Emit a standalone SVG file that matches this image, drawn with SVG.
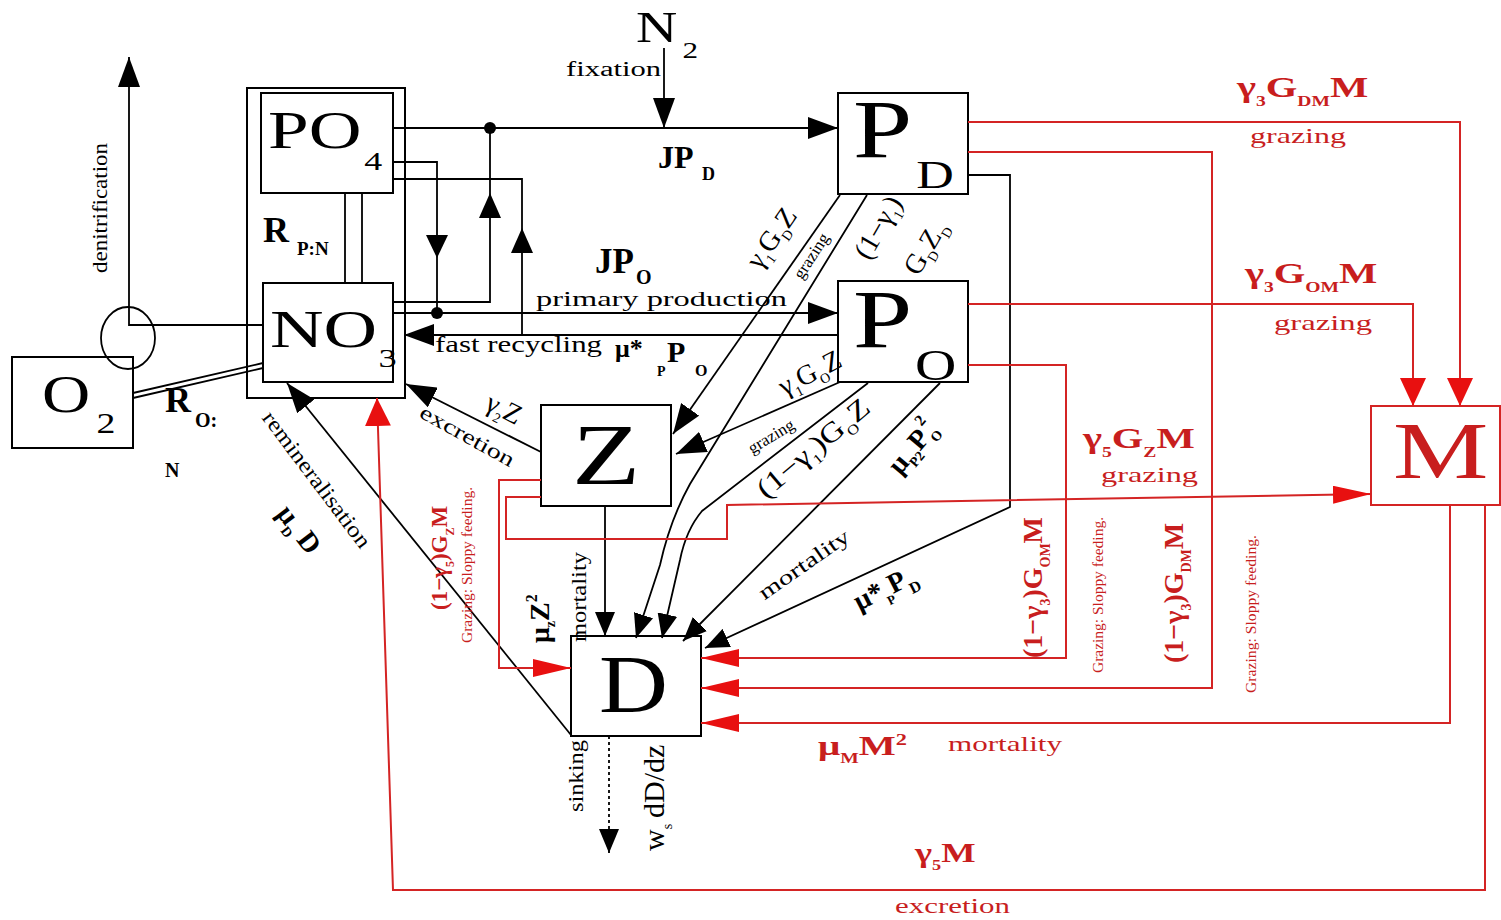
<svg xmlns="http://www.w3.org/2000/svg" width="1501" height="920" viewBox="0 0 1501 920">
<style>
.t{font-family:"Liberation Serif","DejaVu Serif",serif;fill:#000}
.b{font-weight:bold}
.r{fill:#c81e1e}
.box{fill:none;stroke:#000;stroke-width:2}
.rbox{fill:none;stroke:#d42424;stroke-width:2}
.k{fill:none;stroke:#000;stroke-width:1.8}
.rl{fill:none;stroke:#d42424;stroke-width:2}
</style>
<defs>
<marker id="ab" viewBox="0 0 30 22" refX="30" refY="11" markerWidth="30" markerHeight="22" markerUnits="userSpaceOnUse" orient="auto"><path d="M0,0L30,11L0,22z" fill="#000"/></marker>
<marker id="abs" viewBox="0 0 24 20" refX="24" refY="10" markerWidth="24" markerHeight="20" markerUnits="userSpaceOnUse" orient="auto"><path d="M0,0L24,10L0,20z" fill="#000"/></marker>
<marker id="rh" viewBox="0 0 38 18" refX="38" refY="9" markerWidth="38" markerHeight="18" markerUnits="userSpaceOnUse" orient="auto"><path d="M0,0L38,9L0,18z" fill="#e81010"/></marker>
<marker id="rv" viewBox="0 0 28 26" refX="28" refY="13" markerWidth="28" markerHeight="26" markerUnits="userSpaceOnUse" orient="auto"><path d="M0,0L28,13L0,26z" fill="#e81010"/></marker>
</defs>
<rect width="1501" height="920" fill="#fff"/>

<g id="nutrients-box"><rect class="box" x="247" y="88" width="158" height="310"/></g>
<g id="node-PO4"><rect class="box" x="261" y="93" width="132" height="100"/><text class="t" transform="translate(268,148) scale(1.38,1)" font-size="53">PO<tspan font-size="26" dx="2" dy="22">4</tspan></text></g>
<g id="node-NO3"><rect class="box" x="263" y="283" width="130" height="99"/><text class="t" transform="translate(270,347) scale(1.4,1)" font-size="53">NO<tspan font-size="26" dx="1" dy="20">3</tspan></text></g>
<g id="node-O2"><rect class="box" x="12" y="357" width="121" height="91"/><text class="t" transform="translate(42,412) scale(1.26,1)" font-size="53">O<tspan font-size="30" dx="5" dy="21">2</tspan></text></g>
<g id="node-N2"><text class="t" transform="translate(636,42) scale(1.3,1)" font-size="44">N<tspan font-size="24" dx="4" dy="16">2</tspan></text></g>
<g id="node-PD"><rect class="box" x="838" y="93" width="130" height="101"/><text class="t" transform="translate(853,157) scale(1.3,1)" font-size="82">P<tspan font-size="40" dx="3" dy="31">D</tspan></text></g>
<g id="node-PO"><rect class="box" x="838" y="281" width="130" height="101"/><text class="t" transform="translate(853,347) scale(1.3,1)" font-size="82">P<tspan font-size="44" dx="2" dy="33">O</tspan></text></g>
<g id="node-Z"><rect class="box" x="541" y="405" width="130" height="101"/><text class="t" transform="translate(572,484) scale(1.3,1)" font-size="86">Z</text></g>
<g id="node-D"><rect class="box" x="571" y="636" width="130" height="100"/><text class="t" transform="translate(599,712) scale(1.15,1)" font-size="83">D</text></g>
<g id="node-M"><rect class="rbox" x="1371" y="406" width="129" height="99"/><text class="t r" transform="translate(1393,478) scale(1.34,1)" font-size="80">M</text></g>

<g id="connectors">
<path class="k" d="M393,128H838" marker-end="url(#ab)"/>
<circle cx="490" cy="128" r="6"/>
<path class="k" d="M393,162H437V313"/>
<polygon points="426,235 448,235 437,258"/>
<path class="k" d="M393,179H522V335"/>
<polygon points="511,253 533,253 522,228"/>
<path class="k" d="M490,128V302H393"/>
<polygon points="479,218 501,218 490,193"/>
<path class="k" d="M393,313H838" marker-end="url(#ab)"/>
<circle cx="437" cy="313" r="6"/>
<path class="k" d="M838,335H404" marker-end="url(#ab)"/>
<path class="k" d="M664,48V128" marker-end="url(#ab)"/>
<path class="k" d="M345,193V283M362,193V283"/>
<path class="k" d="M133,393L263,363M133,398L263,368"/>
<ellipse class="k" cx="128" cy="338" rx="27" ry="31"/>
<path class="k" d="M263,325H129V57" marker-end="url(#ab)"/>
<path class="k" d="M840,195L673,434" marker-end="url(#ab)"/>
<path class="k" d="M867,195L690,484Q670,520 660,565L636,638" marker-end="url(#abs)"/>
<path class="k" d="M840,382L676,454" marker-end="url(#ab)"/>
<path class="k" d="M868,383L702,511Q686,530 680,560L662,638" marker-end="url(#abs)"/>
<path class="k" d="M940,383L683,641" marker-end="url(#abs)"/>
<path class="k" d="M968,175H1010V507L705,648" marker-end="url(#abs)"/>
<path class="k" d="M605,506V636" marker-end="url(#abs)"/>
<path class="k" d="M541,452L406,384" marker-end="url(#ab)"/>
<path class="k" d="M571,735L287,383" marker-end="url(#ab)"/>
<path class="k" d="M609,736V853" stroke-dasharray="3,3" marker-end="url(#abs)"/>
<path class="rl" d="M968,122H1460V406" marker-end="url(#rv)"/>
<path class="rl" d="M968,152H1212V688H701" marker-end="url(#rh)"/>
<path class="rl" d="M968,304H1413V406" marker-end="url(#rv)"/>
<path class="rl" d="M968,365H1066V658H701" marker-end="url(#rh)"/>
<path class="rl" d="M541,480H499V668H571" marker-end="url(#rh)"/>
<path class="rl" d="M541,497H506V539H727V505L1371,494" marker-end="url(#rh)"/>
<path class="rl" d="M1450,505V723H701" marker-end="url(#rh)"/>
<path class="rl" d="M1485,505V890H393L377,398" marker-end="url(#rv)"/>
</g>

<g id="labels">
<text class="t" x="566" y="76" font-size="20" textLength="95" lengthAdjust="spacingAndGlyphs">fixation</text>
<text class="t b" x="658" y="168" font-size="32">JP<tspan x="702" y="180" font-size="18">D</tspan></text>
<text class="t b" x="595" y="273" font-size="35">JP<tspan x="636" y="284" font-size="20">O</tspan></text>
<text class="t" x="536" y="306" font-size="22" textLength="251" lengthAdjust="spacingAndGlyphs">primary production</text>
<text class="t" x="435" y="352" font-size="24" textLength="167" lengthAdjust="spacingAndGlyphs">fast recycling</text>
<text class="t b" x="615" y="357" font-size="26">μ*<tspan x="657" y="376" font-size="14">P</tspan><tspan x="667" y="362" font-size="30">P</tspan><tspan x="695" y="376" font-size="16">O</tspan></text>
<text class="t b" x="263" y="242" font-size="36">R<tspan x="297" y="255" font-size="19">P:N</tspan></text>
<text class="t b" x="165" y="412" font-size="36">R<tspan x="195" y="427" font-size="20">O:</tspan><tspan x="165" y="477" font-size="20">N</tspan></text>
<text class="t" transform="translate(107,273) rotate(-90)" font-size="22" textLength="130" lengthAdjust="spacingAndGlyphs">denitrification</text>
<text class="t" transform="translate(779,243) rotate(-55)" font-size="28" text-anchor="middle">γ<tspan font-size="14" dy="7">1</tspan><tspan dy="-7">G</tspan><tspan font-size="14" dy="7">D</tspan><tspan dy="-7">Z</tspan></text>
<text class="t" transform="translate(816,259) rotate(-57)" font-size="17" text-anchor="middle">grazing</text>
<text class="t" transform="translate(886,232) rotate(-60)" font-size="28" text-anchor="middle">(1−γ<tspan font-size="14" dy="7">1</tspan><tspan dy="-7">)</tspan></text>
<text class="t" transform="translate(933,252) rotate(-60)" font-size="28" text-anchor="middle">G<tspan font-size="14" dy="7">D</tspan><tspan dy="-7">Z</tspan><tspan font-size="14" dy="7">D</tspan></text>
<text class="t" transform="translate(814,381) rotate(-27)" font-size="28" text-anchor="middle">γ<tspan font-size="14" dy="7">1</tspan><tspan dy="-7">G</tspan><tspan font-size="14" dy="7">O</tspan><tspan dy="-7">Z</tspan></text>
<text class="t" transform="translate(774,441) rotate(-31)" font-size="17" text-anchor="middle">grazing</text>
<text class="t" transform="translate(819,455) rotate(-40) scale(1.2,1)" font-size="28" text-anchor="middle">(1−γ<tspan font-size="14" dy="7">1</tspan><tspan dy="-7">)G</tspan><tspan font-size="14" dy="7">O</tspan><tspan dy="-7">Z</tspan></text>
<text class="t b" transform="translate(919,453) rotate(-50)" font-size="28" text-anchor="middle">μ<tspan font-size="14" dy="7">P2</tspan><tspan dy="-7">P</tspan><tspan font-size="14" dy="7">O</tspan><tspan font-size="16" dx="-8" dy="-22">2</tspan></text>
<text class="t" transform="translate(808,570) rotate(-35)" font-size="21" text-anchor="middle" textLength="106" lengthAdjust="spacingAndGlyphs">mortality</text>
<text class="t b" transform="translate(889,596) rotate(-27)" font-size="28" text-anchor="middle">μ*<tspan font-size="13" dy="9">P</tspan><tspan dy="-9">P</tspan><tspan font-size="16" dy="9">D</tspan></text>
<text class="t" transform="translate(500,417) rotate(27)" font-size="28" text-anchor="middle">γ<tspan font-size="14" dy="7">2</tspan><tspan dy="-7">Z</tspan></text>
<text class="t" transform="translate(464,442) rotate(29)" font-size="21" text-anchor="middle" textLength="105" lengthAdjust="spacingAndGlyphs">excretion</text>
<text class="t" transform="translate(311,484) rotate(53)" font-size="22" text-anchor="middle" textLength="165" lengthAdjust="spacingAndGlyphs">remineralisation</text>
<text class="t b" transform="translate(292,535) rotate(53)" font-size="28" text-anchor="middle">μ<tspan font-size="14" dy="7">D</tspan><tspan dy="-7"> D</tspan></text>
<text class="t b" transform="translate(549,643) rotate(-90)" font-size="28">μ<tspan font-size="14" dy="6">z</tspan><tspan dy="-6">Z</tspan><tspan font-size="16" dy="-12">2</tspan></text>
<text class="t" transform="translate(586,642) rotate(-90)" font-size="22" textLength="90" lengthAdjust="spacingAndGlyphs">mortality</text>
<text class="t" transform="translate(583,812) rotate(-90)" font-size="22" textLength="72" lengthAdjust="spacingAndGlyphs">sinking</text>
<text class="t" transform="translate(664,851) rotate(-90)" font-size="30">w<tspan font-size="14" dy="8">s</tspan><tspan dy="-8" dx="6">dD/dz</tspan></text>

<text class="t b r" transform="translate(1237,97) scale(1.4,1)" font-size="29">γ<tspan font-size="14" dy="9">3</tspan><tspan dy="-9">G</tspan><tspan font-size="14" dy="9">DM</tspan><tspan dy="-9">M</tspan></text>
<text class="t r" x="1250" y="143" font-size="22" textLength="96" lengthAdjust="spacingAndGlyphs">grazing</text>
<text class="t b r" transform="translate(1245,283) scale(1.4,1)" font-size="29">γ<tspan font-size="14" dy="9">3</tspan><tspan dy="-9">G</tspan><tspan font-size="14" dy="9">OM</tspan><tspan dy="-9">M</tspan></text>
<text class="t r" x="1274" y="330" font-size="22" textLength="98" lengthAdjust="spacingAndGlyphs">grazing</text>
<text class="t b r" transform="translate(1083,448) scale(1.4,1)" font-size="29">γ<tspan font-size="14" dy="9">5</tspan><tspan dy="-9">G</tspan><tspan font-size="14" dy="9">Z</tspan><tspan dy="-9">M</tspan></text>
<text class="t r" x="1101" y="482" font-size="22" textLength="97" lengthAdjust="spacingAndGlyphs">grazing</text>
<text class="t b r" transform="translate(1042,658) rotate(-90)" font-size="28">(1−γ<tspan font-size="14" dy="8">3</tspan><tspan dy="-8">)G</tspan><tspan font-size="14" dy="8">OM</tspan><tspan dy="-8">M</tspan></text>
<text class="t r" transform="translate(1103,673) rotate(-90)" font-size="14" textLength="156" lengthAdjust="spacingAndGlyphs">Grazing: Sloppy feeding.</text>
<text class="t b r" transform="translate(1183,663) rotate(-90)" font-size="28">(1−γ<tspan font-size="14" dy="8">3</tspan><tspan dy="-8">)G</tspan><tspan font-size="14" dy="8">DM</tspan><tspan dy="-8">M</tspan></text>
<text class="t r" transform="translate(1256,693) rotate(-90)" font-size="14" textLength="158" lengthAdjust="spacingAndGlyphs">Grazing: Sloppy feeding.</text>
<text class="t b r" transform="translate(447,610) rotate(-90)" font-size="23">(1−γ<tspan font-size="12" dy="7">5</tspan><tspan dy="-7">)G</tspan><tspan font-size="12" dy="7">Z</tspan><tspan dy="-7">M</tspan></text>
<text class="t r" transform="translate(472,643) rotate(-90)" font-size="14" textLength="156" lengthAdjust="spacingAndGlyphs">Grazing: Sloppy feeding.</text>
<text class="t b r" transform="translate(818,755) scale(1.4,1)" font-size="28">μ<tspan font-size="14" dy="8">M</tspan><tspan dy="-8">M</tspan><tspan font-size="16" dy="-10">2</tspan></text>
<text class="t r" x="948" y="751" font-size="22" textLength="114" lengthAdjust="spacingAndGlyphs">mortality</text>
<text class="t b r" transform="translate(915,862) scale(1.3,1)" font-size="28">γ<tspan font-size="14" dy="8">5</tspan><tspan dy="-8">M</tspan></text>
<text class="t r" x="895" y="913" font-size="21" textLength="115" lengthAdjust="spacingAndGlyphs">excretion</text>
</g>
</svg>
